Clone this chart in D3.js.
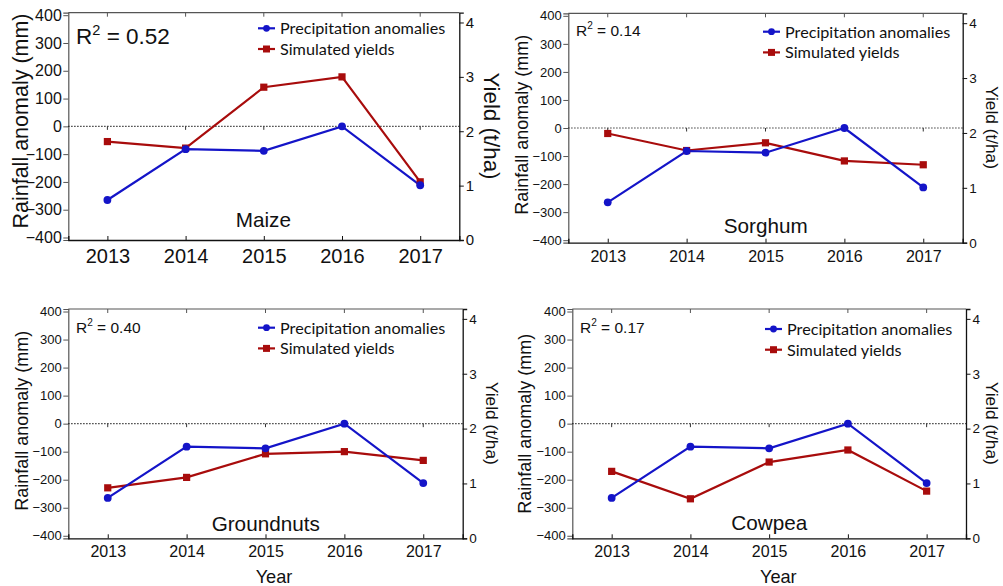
<!DOCTYPE html>
<html>
<head>
<meta charset="utf-8">
<script src="https://cdn.jsdelivr.net/npm/d3@7"></script>
<style>
  html, body { margin: 0; padding: 0; background: #fff; }
  svg { display: block; }
</style>
</head>
<body>
<svg id="chart" width="1003" height="586"></svg>
<script>
// ---- data ----
const years = [2013, 2014, 2015, 2016, 2017];
const precipAnomaly = [-265, -82, -88, 0, -212];
const yieldMaize = [1.81, 1.69, 2.81, 3.00, 1.07];
const yieldSorghum = [1.99, 1.68, 1.82, 1.49, 1.42];
const yieldGroundnuts = [0.92, 1.11, 1.54, 1.58, 1.42];
const yieldCowpea = [1.22, 0.72, 1.39, 1.61, 0.86];
const crops = ["Maize", "Sorghum", "Groundnuts", "Cowpea"];
const r2Values = ["0.52", "0.14", "0.40", "0.17"];
const rainTicks = [-400, -300, -200, -100, 0, 100, 200, 300, 400];
const yieldTicks = [0, 1, 2, 3, 4];
const legendLabels = ["Precipitation anomalies", "Simulated yields"];
const yieldSeries = [yieldMaize, yieldSorghum, yieldGroundnuts, yieldCowpea];

// ---- layout / style ----
const BLUE = "#1414c8", RED = "#a80c0c";
const layouts = [
  {x0: 68.3, x1: 459.3, y0: 12.7, y1: 240, fx: 20, fl: 16, fr: 15, fyl: 21.5, fyr: 22.3, fr2: 22.5,
   xlabDy: 23, ylabX: 28.4, ylabY: 121, yrX: 484, yrY: 126, legX: 258, legY: 28.3, r2X: 76, r2Y: 44,
   cropX: 263.3, cropY: 226.7, year: false},
  {x0: 568.3, x1: 962.7, y0: 13.3, y1: 242.7, fx: 16, fl: 13, fr: 13.5, fyl: 18, fyr: 17.3, fr2: 15.5,
   xlabDy: 19, ylabX: 528, ylabY: 124.7, yrX: 985.5, yrY: 127.5, legX: 763, legY: 31.7, r2X: 576, r2Y: 36,
   cropX: 765.7, cropY: 233, year: false},
  {x0: 68.3, x1: 462.7, y0: 309, y1: 538.3, fx: 16, fl: 13, fr: 13.5, fyl: 18, fyr: 17.3, fr2: 15.5,
   xlabDy: 18.4, ylabX: 28, ylabY: 420.8, yrX: 485.8, yrY: 423.3, legX: 258, legY: 327.7, r2X: 76, r2Y: 332.7,
   cropX: 265.7, cropY: 530.7, year: true, yearX: 274},
  {x0: 572.3, x1: 966, y0: 309, y1: 538.3, fx: 16, fl: 13, fr: 13.5, fyl: 18, fyr: 17.3, fr2: 15.5,
   xlabDy: 18.4, ylabX: 531.2, ylabY: 423.8, yrX: 985.5, yrY: 423.3, legX: 765, legY: 329, r2X: 580, r2Y: 332.7,
   cropX: 769.3, cropY: 530, year: true, yearX: 778.3}
];

const svg = d3.select("#chart");
const AF = "Liberation Sans, Arial, sans-serif";
const LF = "Lato, 'Open Sans', sans-serif";

crops.forEach((crop, i) => {
  const L = layouts[i];
  const g = svg.append("g");
  const x = d3.scaleLinear().domain([2012.5, 2017.5]).range([L.x0, L.x1]);
  const yL = d3.scaleLinear().domain([-409, 409]).range([L.y1, L.y0]);
  const yR = d3.scaleLinear().domain([0, 4.18]).range([L.y1, L.y0]);

  // frame: top & left grey, bottom & right dark
  g.append("line").attr("x1", L.x0).attr("x2", L.x1).attr("y1", L.y0).attr("y2", L.y0)
    .attr("stroke", "#555").attr("stroke-width", 1.2);

  // left axis
  const la = g.append("g").attr("transform", `translate(${L.x0},0)`)
    .call(d3.axisLeft(yL).tickValues(rainTicks).tickSize(5).tickPadding(1.5).tickFormat(d3.format("d")));
  la.select(".domain").attr("stroke", "#555").attr("stroke-width", 1.2);
  la.selectAll(".tick line").attr("stroke", "#555");
  la.selectAll("text").attr("font-family", AF).attr("font-size", L.fl).attr("fill", "#111");

  // right axis
  const ra = g.append("g").attr("transform", `translate(${L.x1},0)`)
    .call(d3.axisRight(yR).tickValues(yieldTicks).tickSize(4.5).tickPadding(2).tickFormat(d3.format("d")));
  ra.select(".domain").attr("stroke", "#111").attr("stroke-width", 1.3);
  ra.selectAll(".tick line").attr("stroke", "#111");
  ra.selectAll("text").attr("font-family", AF).attr("font-size", L.fr).attr("fill", "#111");

  // bottom axis: inward ticks
  const ba = g.append("g").attr("transform", `translate(0,${L.y1})`)
    .call(d3.axisBottom(x).tickValues(years).tickSize(-4).tickPadding(0).tickFormat(d3.format("d")));
  ba.select(".domain").attr("stroke", "#111").attr("stroke-width", 1.3);
  ba.selectAll(".tick line").attr("stroke", "#111");
  ba.selectAll("text").attr("font-family", AF).attr("font-size", L.fx).attr("fill", "#111")
    .attr("dy", null).attr("y", L.xlabDy);

  // top ticks inward
  g.selectAll(".toptick").data(years).join("line")
    .attr("x1", d => x(d)).attr("x2", d => x(d))
    .attr("y1", L.y0).attr("y2", L.y0 + 4).attr("stroke", "#555").attr("stroke-width", 1);

  // zero line (dotted) with ticks pointing down
  g.append("line").attr("x1", L.x0).attr("x2", L.x1).attr("y1", yL(0)).attr("y2", yL(0))
    .attr("stroke", "#111").attr("stroke-width", 1.1).attr("stroke-dasharray", "1.2,1.8");
  g.selectAll(".zerotick").data(years).join("line")
    .attr("x1", d => x(d)).attr("x2", d => x(d))
    .attr("y1", yL(0)).attr("y2", yL(0) + 3.5).attr("stroke", "#333").attr("stroke-width", 1);

  // series
  const rain = years.map((yr, k) => ({yr, v: precipAnomaly[k]}));
  const yld = years.map((yr, k) => ({yr, v: yieldSeries[i][k]}));

  g.append("path").datum(yld)
    .attr("d", d3.line().x(d => x(d.yr)).y(d => yR(d.v)))
    .attr("fill", "none").attr("stroke", RED).attr("stroke-width", 2.2);
  g.append("path").datum(rain)
    .attr("d", d3.line().x(d => x(d.yr)).y(d => yL(d.v)))
    .attr("fill", "none").attr("stroke", BLUE).attr("stroke-width", 2.2);
  g.selectAll(".sq").data(yld).join("rect")
    .attr("x", d => x(d.yr) - 3.6).attr("y", d => yR(d.v) - 3.6)
    .attr("width", 7.2).attr("height", 7.2).attr("fill", RED);
  g.selectAll(".dot").data(rain).join("circle")
    .attr("cx", d => x(d.yr)).attr("cy", d => yL(d.v)).attr("r", 3.9).attr("fill", BLUE);

  // legend
  legendLabels.forEach((lab, k) => {
    const ly = L.legY + k * 20.7;
    const col = k === 0 ? BLUE : RED;
    g.append("line").attr("x1", L.legX).attr("x2", L.legX + 17).attr("y1", ly).attr("y2", ly)
      .attr("stroke", col).attr("stroke-width", 2.2);
    if (k === 0) g.append("circle").attr("cx", L.legX + 8.5).attr("cy", ly).attr("r", 3.4).attr("fill", col);
    else g.append("rect").attr("x", L.legX + 5).attr("y", ly - 3.5).attr("width", 7).attr("height", 7).attr("fill", col);
    g.append("text").attr("x", L.legX + 22).attr("y", ly + 5.8)
      .attr("font-family", LF).attr("font-size", 16.2).attr("fill", "#111").text(lab);
  });

  // R^2 annotation
  const rt = g.append("text").attr("x", L.r2X).attr("y", L.r2Y)
    .attr("font-family", AF).attr("font-size", L.fr2).attr("fill", "#111");
  rt.append("tspan").text("R");
  rt.append("tspan").attr("font-size", L.fr2 * 0.65).attr("dy", -L.fr2 * 0.42).text("2");
  rt.append("tspan").attr("dy", L.fr2 * 0.42).text(" = " + r2Values[i]);

  // crop name
  g.append("text").attr("x", L.cropX).attr("y", L.cropY).attr("text-anchor", "middle")
    .attr("font-family", AF).attr("font-size", 20.7).attr("fill", "#111").text(crop);

  // axis titles
  g.append("text").attr("transform", `translate(${L.ylabX},${L.ylabY}) rotate(-90)`)
    .attr("text-anchor", "middle").attr("font-family", AF).attr("font-size", L.fyl).attr("fill", "#111")
    .text("Rainfall anomaly (mm)");
  g.append("text").attr("transform", `translate(${L.yrX},${L.yrY}) rotate(90)`)
    .attr("text-anchor", "middle").attr("font-family", AF).attr("font-size", L.fyr).attr("fill", "#111")
    .text("Yield (t/ha)");
  if (L.year) {
    g.append("text").attr("x", L.yearX).attr("y", 582.7).attr("text-anchor", "middle")
      .attr("font-family", AF).attr("font-size", 18.2).attr("fill", "#111").text("Year");
  }
});
</script>
</body>
</html>
